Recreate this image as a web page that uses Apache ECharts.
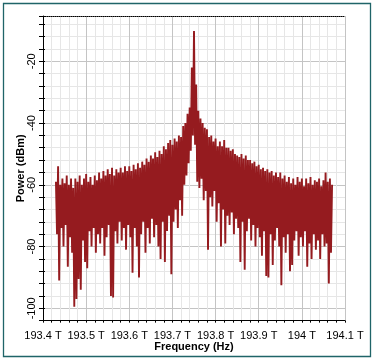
<!DOCTYPE html>
<html><head><meta charset="utf-8">
<script src="https://cdn.jsdelivr.net/npm/echarts@6/dist/echarts.min.js"></script>
<style>html,body{margin:0;padding:0;background:#fff}#c{width:374px;height:362px}</style>
</head><body><div id="c"></div>
<script>
// Spectrum samples (THz grid), power in dBm
const freqStart = 193.43;
const freqStep = 0.0025;
// local maxima of the trace (even samples)
const highs = [
 -59, -54, -60, -58, -59.5, -57, -60, -58, -61, -58,
 -59, -57, -60, -58, -56.5, -59, -57.5, -60, -57, -58.5,
 -56, -58, -55.5, -57, -55, -56.5, -54.5, -57, -55, -56,
 -54.5, -56, -54, -55.5, -54, -55.5, -53.5, -55, -53, -54.5,
 -52.5, -53.5, -51.5, -52.5, -50.5, -51.5, -49.5, -51, -49, -50,
 -47.5, -48.5, -46.5, -45.5, -47, -45, -46, -44, -44.5, -41,
 -40, -37, -35, -22, -10.2, -27.5, -36, -38.5, -40, -41.5,
 -42, -44.5, -44, -46, -45, -47.5, -46, -47.5, -45.5, -48,
 -48, -49, -48.5, -50, -50.5, -51, -50, -51.5, -50.5, -52,
 -52, -53, -52.5, -54, -53.5, -55, -54.5, -55.5, -55, -56,
 -55.5, -57, -56, -57.5, -56, -58, -57, -59, -57.5, -59.5,
 -58, -60, -57.5, -59, -58, -60.5, -58, -59.5, -57.5, -60,
 -58.5, -59, -58, -60.5, -58.5, -56, -59, -58, -60
];
// local minima of the trace (odd samples)
const lows = [
 -76, -91, -74, -80, -73, -86.5, -77, -82, -99.5, -97,
 -90.5, -94, -78, -85, -87, -75, -80, -74, -82, -76,
 -79, -74, -83, -77, -73, -96, -96.5, -75, -79, -72,
 -78, -74, -81, -73, -77, -88.5, -74, -80, -90, -76,
 -72, -82, -74, -79, -71, -77, -73, -80, -84, -72,
 -85, -75, -70, -89, -72, -68, -74, -65, -70, -60,
 -57, -53, -49, -44, -47, -59, -61, -58, -65, -62,
 -81, -64, -67, -62, -72, -66, -80, -68, -79, -70,
 -73, -69, -76, -71, -74, -85, -72, -87.5, -75, -71,
 -78, -73, -80, -74, -77, -83, -75, -89.5, -90, -76,
 -86, -78, -74, -80, -92.5, -77, -82, -76, -88, -86,
 -78, -75, -83, -77, -80, -75, -86.5, -79, -84, -76,
 -81, -78, -84, -76, -80, -79, -92, -82
];

const data = [];
for (let i = 0; i < highs.length + lows.length; i++) {
  const v = (i % 2 === 0) ? highs[i / 2] : lows[(i - 1) / 2];
  data.push([freqStart + i * freqStep, v]);
}

const MAJOR = '#c4c4c4', MINOR = '#e6e6e6';
const FONT = 'Liberation Sans, Arial, sans-serif';
const chart = echarts.init(document.getElementById('c'), null, {renderer: 'canvas'});
chart.setOption({
  animation: false,
  backgroundColor: '#fff',
  grid: {left: 43, top: 16, width: 302, height: 304.65},
  xAxis: [{
    type: 'value', min: 193.4, max: 194.1, interval: 0.02,
    name: 'Frequency (Hz)', nameLocation: 'middle', nameGap: 21, nameMoveOverlap: false,
    nameTextStyle: {fontFamily: FONT, fontSize: 11, fontWeight: 'bold', color: '#000'},
    axisLine: {onZero: false, lineStyle: {color: '#000', width: 1}},
    axisTick: {length: 2, lineStyle: {color: '#000'}},
    axisLabel: {margin: 10, fontSize: 11, color: '#000', fontFamily: FONT,
      formatter: v => (Math.round(v * 100) % 10 === 0) ? (Math.round(v * 10) / 10) + ' T' : ''},
    splitLine: {show: true, lineStyle: {color: [MAJOR, MINOR, MINOR, MINOR, MINOR], width: 1}}
  }, {
    type: 'value', min: 193.4, max: 194.1, position: 'top',
    axisLine: {onZero: false, lineStyle: {color: '#000', type: 'dotted', width: 1}},
    axisTick: {show: false}, axisLabel: {show: false}, splitLine: {show: false}
  }],
  yAxis: [{
    type: 'value', min: -104, max: -5.33, interval: 4,
    name: 'Power (dBm)', nameLocation: 'middle', nameGap: 17, nameMoveOverlap: false,
    nameTextStyle: {fontFamily: FONT, fontSize: 11, fontWeight: 'bold', color: '#000'},
    axisLine: {show: true, onZero: false, lineStyle: {color: '#000', width: 1}},
    axisTick: {show: true, length: 4, lineStyle: {color: '#000'}},
    axisLabel: {rotate: 90, margin: 6, fontSize: 11, color: '#000', fontFamily: FONT,
      formatter: v => (v % 20 === 0) ? String(v) : ''},
    splitLine: {show: true, lineStyle: {color: [MINOR, MAJOR, MINOR, MINOR, MINOR], width: 1}}
  }, {
    type: 'value', min: -104, max: -5.33, interval: 4, position: 'left',
    axisLine: {show: false}, axisTick: {show: true, inside: true, length: 2, lineStyle: {color: '#000'}},
    axisLabel: {show: false}, splitLine: {show: false}
  }],
  graphic: [{
    type: 'rect', shape: {x: 3.5, y: 3.5, width: 367, height: 353},
    style: {fill: 'none', stroke: '#1f6468', lineWidth: 1.3}, silent: true
  }],
  series: [{
    type: 'line', data: data, xAxisIndex: 0, yAxisIndex: 0,
    showSymbol: false, symbol: 'none', silent: true, clip: true,
    lineStyle: {color: '#951b1f', width: 1.9}, itemStyle: {color: '#951b1f'}
  }]
});
</script></body></html>
